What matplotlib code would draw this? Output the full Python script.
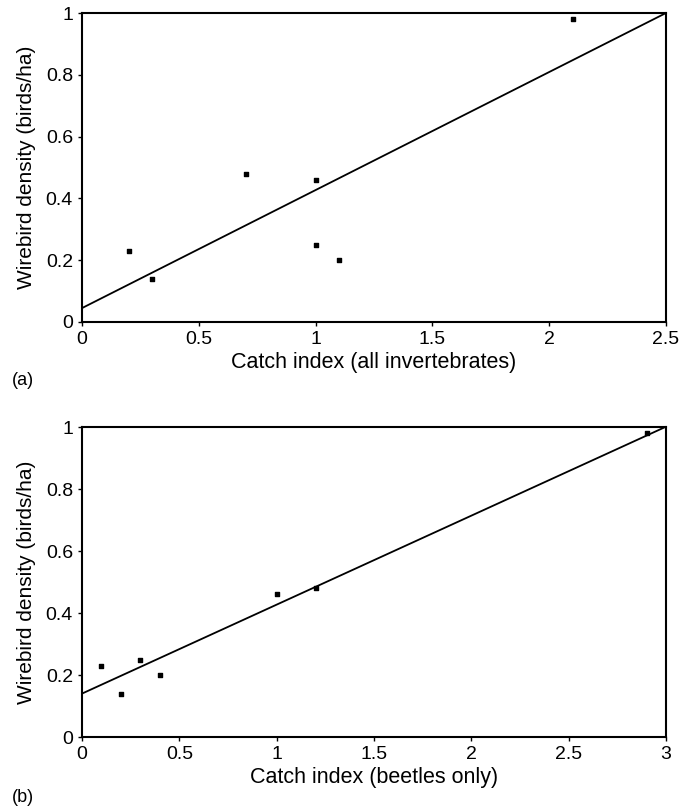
import numpy as np
import matplotlib.pyplot as plt

plt.rcParams['font.family'] = ['Liberation Sans', 'DejaVu Sans']

# panel (a): all invertebrates
catch_a = [0.2, 0.3, 0.7, 1.0, 1.0, 1.1, 2.1]
density_a = [0.23, 0.14, 0.48, 0.46, 0.25, 0.20, 0.98]
fit_a = [0.045, 0.382]  # intercept, slope

# panel (b): beetles only
catch_b = [0.1, 0.2, 0.3, 0.4, 1.0, 1.2, 2.9]
density_b = [0.23, 0.14, 0.25, 0.20, 0.46, 0.48, 0.98]
fit_b = [0.14, 0.287]

y_ticks = [0, 0.2, 0.4, 0.6, 0.8, 1.0]
y_labels = ["0", "0.2", "0.4", "0.6", "0.8", "1"]

fig = plt.figure(figsize=(6.79, 8.07), dpi=100)
W, H = 679, 807

def panel(rect, x, y, fit, xmax, xticks, xlabels, xlabel, tag, tag_y):
    ax = fig.add_axes(rect)
    ax.scatter(x, y, s=9, marker='s', color='black', zorder=3)
    xs = np.array([0, xmax])
    ax.plot(xs, fit[0] + fit[1] * xs, color='black', lw=1.3)
    ax.set_xlim(0, xmax)
    ax.set_ylim(0, 1)
    ax.set_xticks(xticks)
    ax.set_xticklabels(xlabels)
    ax.set_yticks(y_ticks)
    ax.set_yticklabels(y_labels)
    ax.tick_params(direction='out', length=3, width=1, labelsize=14)
    for s in ax.spines.values():
        s.set_linewidth(1.5)
    ax.set_xlabel(xlabel, fontsize=15.5, labelpad=3)
    ax.set_ylabel("Wirebird density (birds/ha)", fontsize=15, labelpad=7)
    fig.text(12 / W, 1 - tag_y / H, tag, fontsize=13, va='center')
    return ax

l, r = 82 / W, 666 / W
panel([l, 1 - 322 / H, r - l, 309 / H], catch_a, density_a, fit_a, 2.5,
      [0, 0.5, 1, 1.5, 2, 2.5], ["0", "0.5", "1", "1.5", "2", "2.5"],
      "Catch index (all invertebrates)", "(a)", 380)
panel([l, 1 - 737 / H, r - l, 310 / H], catch_b, density_b, fit_b, 3,
      [0, 0.5, 1, 1.5, 2, 2.5, 3], ["0", "0.5", "1", "1.5", "2", "2.5", "3"],
      "Catch index (beetles only)", "(b)", 797)

fig.savefig("out.png", dpi=100)
